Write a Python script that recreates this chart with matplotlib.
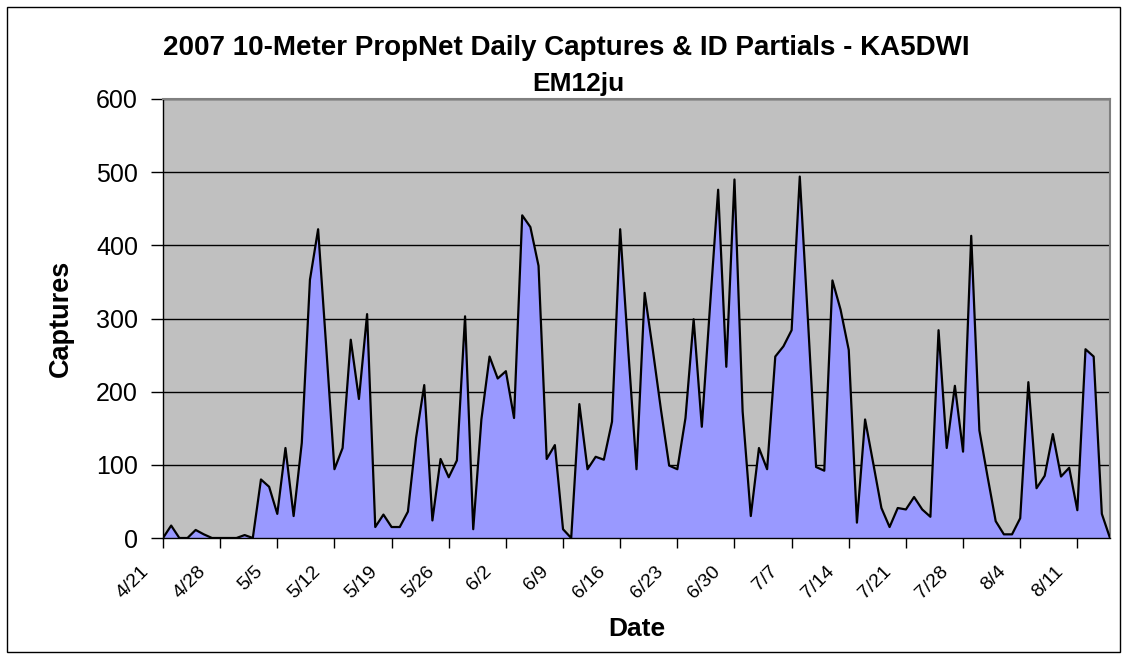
import numpy as np
import pandas as pd
import matplotlib
matplotlib.use("Agg")
import matplotlib.pyplot as plt
import matplotlib.transforms as mtransforms
from matplotlib.patches import Rectangle

plt.rcParams['font.family'] = ['Liberation Sans', 'DejaVu Sans']

# Daily captures, 4/21 through 8/15 (2007)
dates = pd.date_range("2007-04-21", periods=117)
captures = [
    0, 17, 0, 0, 11, 5, 0, 0, 0, 0,
    4, 0, 80, 70, 33, 123, 30, 130, 353, 422,
    260, 94, 123, 271, 190, 306, 15, 32, 15, 15,
    36, 137, 209, 24, 108, 83, 106, 303, 12, 162,
    248, 218, 228, 164, 441, 425, 372, 108, 127, 12,
    0, 183, 94, 111, 107, 159, 422, 255, 94, 335,
    257, 175, 99, 94, 164, 299, 152, 316, 476, 234,
    490, 173, 30, 123, 94, 248, 262, 284, 494, 298,
    97, 92, 352, 312, 257, 21, 162, 102, 41, 15,
    41, 39, 56, 39, 29, 284, 123, 208, 118, 413,
    147, 84, 23, 5, 5, 27, 213, 68, 85, 142,
    84, 96, 38, 258, 248, 33, 0,
]
date_labels = [f"{d.month}/{d.day}" for d in dates]
yticks = [0, 100, 200, 300, 400, 500, 600]

W, H = 1127, 659
fig = plt.figure(figsize=(W / 100, H / 100), dpi=100)
fig.patch.set_facecolor("white")
# chart-area border
fig.patches.append(Rectangle((7 / W, 7 / H), (W - 14) / W, (H - 14) / H,
                             transform=fig.transFigure, fill=False,
                             edgecolor="black", lw=1))

left, right, top, bottom = 163, 1110, 99, 538
ax = fig.add_axes([left / W, 1 - bottom / H, (right - left) / W, (bottom - top) / H])
ax.set_facecolor("#C0C0C0")

x = np.arange(len(captures))
ax.fill_between(x, captures, 0, color="#9999FF", lw=0, zorder=2)
ax.plot(x, captures, color="black", lw=1.6, zorder=3)

ax.set_xlim(0, len(captures) - 1)
ax.set_ylim(0, 600)
ax.set_yticks(yticks)
ax.yaxis.grid(True, color="black", lw=1, zorder=1)
ax.set_axisbelow(True)

ax.tick_params(axis="x", direction="out", length=7, width=1, pad=0)
ax.tick_params(axis="y", direction="out", length=9, width=1, labelsize=18, pad=9)

tick_pos = x[::7]
ax.set_xticks(tick_pos)
ax.set_xticklabels([date_labels[i] for i in tick_pos], rotation=45,
                   ha="right", va="center", rotation_mode="anchor", fontsize=14)
# shift rotated labels so they sit below-left of their tick, as in Excel
offset = mtransforms.ScaledTranslation(-17 / 100, -21 / 100, fig.dpi_scale_trans)
for lab in ax.get_xticklabels():
    lab.set_transform(lab.get_transform() + offset)

for s in ["top", "right"]:
    ax.spines[s].set_color("#808080")
    ax.spines[s].set_linewidth(1.5)
for s in ["left", "bottom"]:
    ax.spines[s].set_color("black")
    ax.spines[s].set_linewidth(1)

fig.text(566 / W, 1 - 55 / H, "2007 10-Meter PropNet Daily Captures & ID Partials - KA5DWI",
         ha="center", va="baseline", fontsize=20, fontweight="bold")
fig.text(578 / W, 1 - 91 / H, "EM12ju", ha="center", va="baseline",
         fontsize=19, fontweight="bold")
fig.text(637 / W, 1 - 629 / H, "Date", ha="center", va="center",
         fontsize=19, fontweight="bold")
fig.text(61 / W, 1 - 318 / H, "Captures", ha="center", va="center",
         fontsize=19.5, fontweight="bold", rotation=90)

fig.savefig("out.png", dpi=100)
